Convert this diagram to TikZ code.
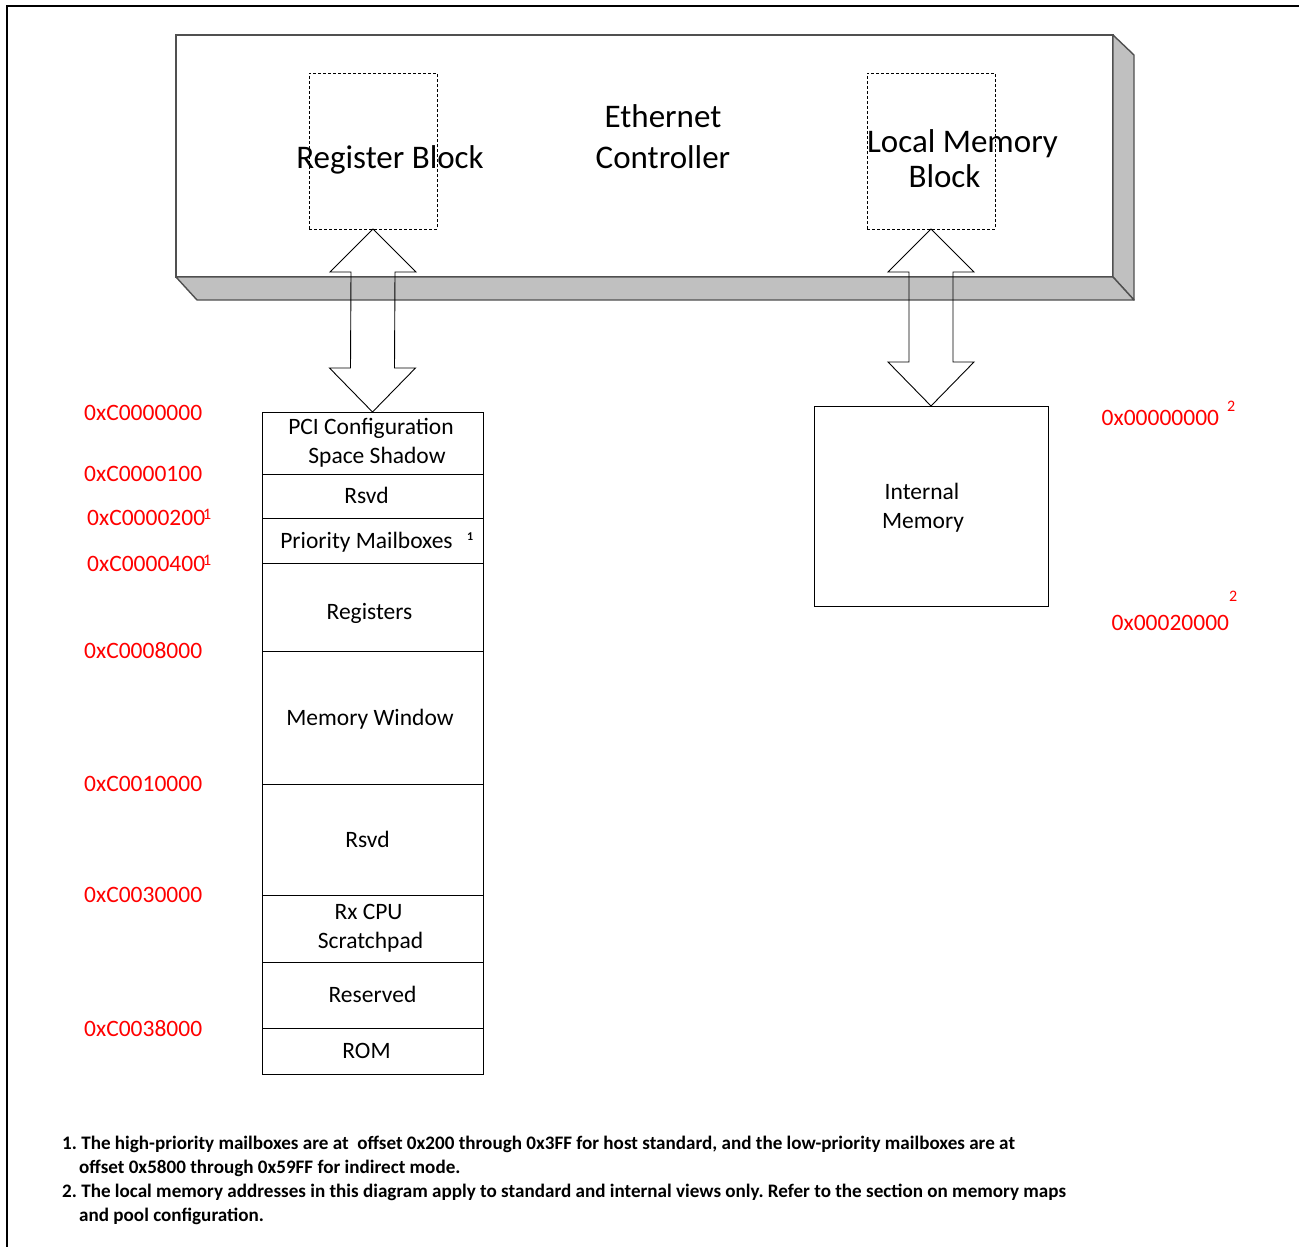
\documentclass[tikz,border=0pt]{standalone}
\usepackage{fontspec}
\setmainfont{Carlito}
\usetikzlibrary{calc}
\frenchspacing

\definecolor{slabgray}{HTML}{C0C0C0}
\definecolor{edgegray}{HTML}{505050}
\definecolor{addrred}{HTML}{FF0000}

\newcommand{\ecfont}{\fontsize{33}{41}\selectfont}
\newcommand{\mapfont}{\fontsize{23.5}{29}\selectfont}
\newcommand{\supsize}{\fontsize{16}{18}\selectfont}
\newcommand{\smallsup}{\fontsize{12}{14}\selectfont\bfseries}
\newcommand{\notesize}{\fontsize{19.1}{24}\selectfont\bfseries}

% hollow two-headed block arrow from the bottom of #1 to the top of #2
\newcommand{\dblarrow}[2]{%
  \draw[blockarrow] (#1.south) -- ++(43,43) -- ++(-21,0)
    -- ($(#2.north)+(22,-44)$) -- ++(21,0) -- (#2.north)
    -- ++(-43,-44) -- ++(21,0) -- ($(#1.south)+(-22,43)$)
    -- ++(-21,0) -- cycle;}
% move a centred line sideways by half of #1
\newcommand{\nudge}[1]{\hspace*{#1}}

\begin{document}
\begin{tikzpicture}[x=1pt,y=-1pt,
  face/.style={draw=edgegray, line width=1.4pt, fill=white, inner sep=0, outer sep=0},
  slab/.style={draw=edgegray, line width=1.4pt, fill=slabgray, line join=round},
  dashbox/.style={draw, dash pattern=on 3pt off 2pt, line width=0.8pt,
    minimum width=128, minimum height=156, anchor=north west, inner sep=0, outer sep=0},
  bigtext/.style={font=\ecfont, inner sep=0, anchor=base, align=center},
  blockarrow/.style={draw, line width=0.9pt, line join=miter},
  cell/.style={draw, line width=0.9pt, minimum width=221, anchor=north west,
    inner sep=0, outer sep=0, font=\mapfont, align=center,
    text height=15pt, text depth=0pt},
  cell2/.style={cell, text height={}, text depth={}},
  addr/.style={font=\mapfont, text=addrred, inner sep=0, anchor=base west},
  addrsup/.style={font=\supsize, text=addrred, inner sep=0, anchor=base west},
  note/.style={font=\notesize, inner sep=0, anchor=base west}
]
\useasboundingbox (0,0) rectangle (1299,1247);

% page frame
\draw[line width=2.6pt] (1299,6) -- (7,6) -- (7,1247);

% Ethernet controller slab
\node[face, minimum width=937, minimum height=242, anchor=north west] (eth) at (176,35) {};
\draw[slab] (eth.north east) -- ++(21,20) -- ($(eth.south east)+(21,23)$) -- (eth.south east) -- cycle;
\draw[slab] (eth.south west) -- (eth.south east) -- ++(21,23) -- ($(eth.south west)+(21,23)$) -- cycle;
\node[bigtext] (ectext) at (663,168) {Ethernet\\Controller};

% blocks inside the controller
\node[dashbox] (rb) at (309,73) {};
\node[dashbox] (lm) at (867,73) {};
\node[bigtext] (rbtext) at (390,168) {Register Block};
\node[bigtext] (lmtext) at (962.5,152) {Local Memory};
\node[bigtext] (lmtext2) at (944.5,187) {Block};

% register space map
\node[cell2, minimum height=62] (r1) at (262,412) {\nudge{-3pt}PCI Configuration\\\nudge{9pt}Space Shadow};
\node[cell, minimum height=44] (r2) at (r1.south west) {\nudge{-12pt}Rsvd};
\node[cell, minimum height=45] (r3) at (r2.south west) {\nudge{-12pt}Priority Mailboxes};
\node[cell, minimum height=88, text height=24pt] (r4) at (r3.south west) {\nudge{-6pt}Registers};
\node[cell, minimum height=133] (r5) at (r4.south west) {\nudge{-5pt}Memory Window};
\node[cell, minimum height=111] (r6) at (r5.south west) {\nudge{-10pt}Rsvd};
\node[cell2, minimum height=67] (r7) at (r6.south west) {\nudge{-8pt}Rx CPU\\\nudge{-4pt}Scratchpad};
\node[cell, minimum height=66] (r8) at (r7.south west) {Reserved};
\node[cell, minimum height=46] (r9) at (r8.south west) {\nudge{-12pt}ROM};
\node[font=\smallsup, inner sep=0, anchor=base west] (r3sup) at (467,540) {1};

% internal memory
\node[cell2, minimum width=234, minimum height=200, text depth=-1pt] (im) at (814,406) {\nudge{-18pt}Internal\\\nudge{-16pt}Memory};

% block arrows
\dblarrow{rb}{r1}
\dblarrow{lm}{im}

% addresses
\node[addr] (a1) at (84,420) {0xC0000000};
\node[addr] (a2) at (84,481.5) {0xC0000100};
\node[addr] (a3) at (87,525) {0xC0000200};
\node[addrsup] (a3s) at (203,519) {1};
\node[addr] (a4) at (87,571.5) {0xC0000400};
\node[addrsup] (a4s) at (203,565.5) {1};
\node[addr] (a5) at (84,658.5) {0xC0008000};
\node[addr] (a6) at (84,791.5) {0xC0010000};
\node[addr] (a7) at (84,902.5) {0xC0030000};
\node[addr] (a8) at (84,1036.5) {0xC0038000};
\node[addr] (b1) at (1101.5,425) {0x00000000};
\node[addrsup] (b1s) at (1227,411.5) {2};
\node[addr] (b2) at (1111.5,630) {0x00020000};
\node[addrsup] (b2s) at (1229,601) {2};

% footnotes
\node[note] (n1) at (62,1149) {1. The high-priority mailboxes are at\ \ offset 0x200 through 0x3FF for host standard, and the low-priority mailboxes are at};
\node[note] (n1b) at (79,1173) {offset 0x5800 through 0x59FF for indirect mode.};
\node[note] (n2) at (62,1197) {2. The local memory addresses in this diagram apply to standard and internal views only. Refer to the section on memory maps};
\node[note] (n2b) at (79,1221) {and pool configuration.};
\end{tikzpicture}
\end{document}
